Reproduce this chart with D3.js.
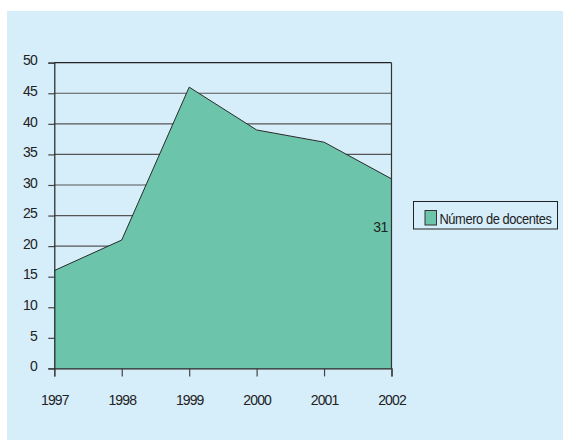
<!DOCTYPE html>
<html><head><meta charset="utf-8">
<script src="https://cdn.jsdelivr.net/npm/d3@7"></script>
<style>body{margin:0;background:#fff}svg{display:block}text{font-family:"Liberation Sans",Arial,sans-serif}</style>
</head><body>
<script>
const years = ["1997","1998","1999","2000","2001","2002"];
const docentes = [16, 21, 46, 39, 37, 31];
const yTicks = [0,5,10,15,20,25,30,35,40,45,50];
const seriesName = "Número de docentes";

const W = 563, H = 440;
const svg = d3.select("body").append("svg").attr("width", W).attr("height", H);
svg.append("rect").attr("x", 7).attr("y", 11).attr("width", W-7).attr("height", H-11).attr("fill", "#d6edfa");

const x = d3.scalePoint().domain(years).range([54.3, 391.5]);
const y = d3.scaleLinear().domain([0, 50]).range([368.4, 62.7]);

const g = svg.append("g");
// gridlines
g.selectAll("line.grid").data(yTicks.filter(d => d > 0)).join("line")
  .attr("x1", x.range()[0]).attr("x2", x.range()[1])
  .attr("y1", d => y(d)).attr("y2", d => y(d))
  .attr("stroke", d => d === 50 ? "#222" : "#555").attr("stroke-width", 1.2);

// area
const data = years.map((yr, i) => ({yr, v: docentes[i]}));
g.append("path").datum(data)
  .attr("d", d3.area().x(d => x(d.yr)).y0(y(0)).y1(d => y(d.v)))
  .attr("fill", "#6cc5aa");
g.append("path").datum(data)
  .attr("d", d3.line().x(d => x(d.yr)).y(d => y(d.v)))
  .attr("fill", "none").attr("stroke", "#2a2a2a").attr("stroke-width", 1);

// right border
g.append("line").attr("x1", x.range()[1]).attr("x2", x.range()[1])
  .attr("y1", y(50)).attr("y2", y(0)).attr("stroke", "#333").attr("stroke-width", 1.2);

// y axis
const yAxis = d3.axisLeft(y).tickValues(yTicks).tickSize(6).tickPadding(11.5);
const ya = g.append("g").attr("transform", `translate(${x.range()[0]},0)`).call(yAxis);
ya.selectAll(".tick text").attr("dy", "0.16em");
// x axis
const xAxis = d3.axisBottom(x).tickSize(8).tickPadding(18.6);
const xa = g.append("g").attr("transform", `translate(0,${y(0)})`).call(xAxis);
[ya, xa].forEach(a => {
  a.select(".domain").attr("stroke", "#222").attr("stroke-width", 1.2);
  a.selectAll(".tick line").attr("stroke", "#444").attr("stroke-width", 1.2);
  a.selectAll(".tick text").attr("font-size", 14).attr("fill", "#222")
    .attr("letter-spacing", -0.9)
    .attr("font-family", '"Liberation Sans",Arial,sans-serif');
});

// data label for last point
g.append("text").attr("x", 388).attr("y", 232.3)
  .attr("text-anchor", "end").attr("font-size", 14).attr("fill", "#222")
  .attr("letter-spacing", -0.4)
  .text(docentes[docentes.length - 1]);

// legend
const lg = svg.append("g").attr("transform", "translate(413.5,201.5)");
lg.append("rect").attr("width", 144).attr("height", 27.5).attr("fill", "none").attr("stroke", "#222").attr("stroke-width", 1);
lg.append("rect").attr("x", 11.5).attr("y", 9).attr("width", 11.5).attr("height", 14.5).attr("fill", "#6cc5aa").attr("stroke", "#333").attr("stroke-width", 1);
const lt = lg.append("text").attr("x", 0).attr("y", 0).attr("font-size", 15.5).attr("fill", "#222")
  .attr("letter-spacing", -0.5).text(seriesName);
const natural = lt.node().getComputedTextLength();
lt.attr("transform", `translate(26,22.3) scale(${112 / natural},1)`);
</script>
</body></html>
